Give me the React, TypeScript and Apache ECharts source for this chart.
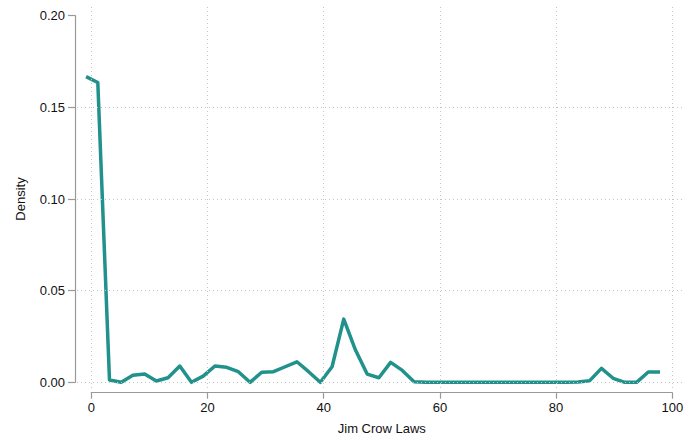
import React, { useEffect, useRef } from "react";
import * as echarts from "echarts";

const xValues = [
  -0.9, 1.12, 3.13, 5.15, 7.16, 9.18, 11.2, 13.21, 15.23, 17.24,
  19.26, 21.28, 23.29, 25.31, 27.32, 29.34, 31.36, 33.37, 35.39, 37.4,
  39.42, 41.44, 43.45, 45.47, 47.48, 49.5, 51.52, 53.53, 55.55, 57.56,
  59.58, 61.6, 63.61, 65.63, 67.64, 69.66, 71.68, 73.69, 75.71, 77.72,
  79.74, 81.76, 83.77, 85.79, 87.8, 89.82, 91.84, 93.85, 95.87, 97.88,
];
const densityValues = [
  0.1668, 0.1636, 0.0013, 0.0, 0.0038, 0.0045, 0.0007, 0.0025, 0.0089, 0.0,
  0.0034, 0.0089, 0.0082, 0.0058, 0.0, 0.0055, 0.0058, 0.0085, 0.0112, 0.0058,
  0.0, 0.0085, 0.0345, 0.0176, 0.0045, 0.0025, 0.0109, 0.0065, 0.0003, 0.0,
  0.0, 0.0, 0.0, 0.0, 0.0, 0.0, 0.0, 0.0, 0.0, 0.0,
  0.0, 0.0, 0.0002, 0.0009, 0.0076, 0.0022, 0.0, 0.0, 0.0056, 0.0056,
];
const xTicks = [0, 20, 40, 60, 80, 100];
const yGridTicks = [0, 0.05, 0.1, 0.15];

const FONT = "'Liberation Sans', Arial, Helvetica, sans-serif";

export default function App() {
  const ref = useRef<HTMLDivElement>(null);
  useEffect(() => {
    if (!ref.current) return;
    const chart = echarts.init(ref.current, undefined, { renderer: "svg" });
    const gridStyle = { color: "#c4c4c4", width: 1, type: [1, 3] as any };
    chart.setOption({
      animation: false,
      backgroundColor: "#ffffff",
      grid: [
        { left: 77, top: 4, width: 606, height: 384, outerBoundsMode: "none", containLabel: false },
        { left: 91.3, top: 15.7, width: 581, height: 366.6, outerBoundsMode: "none", containLabel: false },
      ],
      xAxis: [
        { type: "value", gridIndex: 0, min: -2.46, max: 101.84, show: false },
        {
          type: "value",
          gridIndex: 1,
          min: 0,
          max: 100,
          interval: 20,
          offset: 10.4,
          name: "Jim Crow Laws",
          nameLocation: "middle",
          nameGap: 29,
          nameTextStyle: { fontFamily: FONT, fontSize: 13, color: "#111" },
          axisLine: { show: true, onZero: false, lineStyle: { color: "#999", width: 1.2 } },
          axisTick: { show: true, length: 6, lineStyle: { color: "#999", width: 1.2 } },
          axisLabel: { fontFamily: FONT, fontSize: 13, color: "#111", margin: 8 },
          splitLine: { show: false },
        },
      ],
      yAxis: [
        { type: "value", gridIndex: 0, min: -0.0031, max: 0.2064, show: false },
        {
          type: "value",
          gridIndex: 1,
          min: 0,
          max: 0.2,
          interval: 0.05,
          offset: 16.3,
          name: "Density",
          nameLocation: "middle",
          nameGap: 48,
          nameRotate: 90,
          nameTextStyle: { fontFamily: FONT, fontSize: 13, color: "#111" },
          axisLine: { show: true, onZero: false, lineStyle: { color: "#999", width: 1.2 } },
          axisTick: { show: true, length: 7, lineStyle: { color: "#999", width: 1.2 } },
          axisLabel: {
            fontFamily: FONT,
            fontSize: 13,
            color: "#111",
            margin: 10,
            formatter: (v: number) => v.toFixed(2),
          },
          splitLine: { show: false },
        },
      ],
      series: [
        {
          type: "line",
          xAxisIndex: 0,
          yAxisIndex: 0,
          data: [],
          z: 1,
          silent: true,
          markLine: {
            silent: true,
            symbol: "none",
            label: { show: false },
            lineStyle: gridStyle,
            emphasis: { disabled: true },
            data: [
              ...yGridTicks.map((v) => ({ yAxis: v })),
              ...xTicks.map((v) => ({ xAxis: v })),
            ],
          },
        },
        {
          type: "line",
          xAxisIndex: 0,
          yAxisIndex: 0,
          z: 3,
          clip: false,
          showSymbol: false,
          symbol: "none",
          lineStyle: { color: "#21918c", width: 3.5, join: "round" },
          itemStyle: { color: "#21918c" },
          data: xValues.map((x, i) => [x, densityValues[i]]),
        },
      ],
    });
    return () => chart.dispose();
  }, []);
  return (
    <div
      ref={ref}
      style={{ position: "fixed", left: 0, top: 0, width: 699, height: 440, background: "#fff" }}
    />
  );
}
